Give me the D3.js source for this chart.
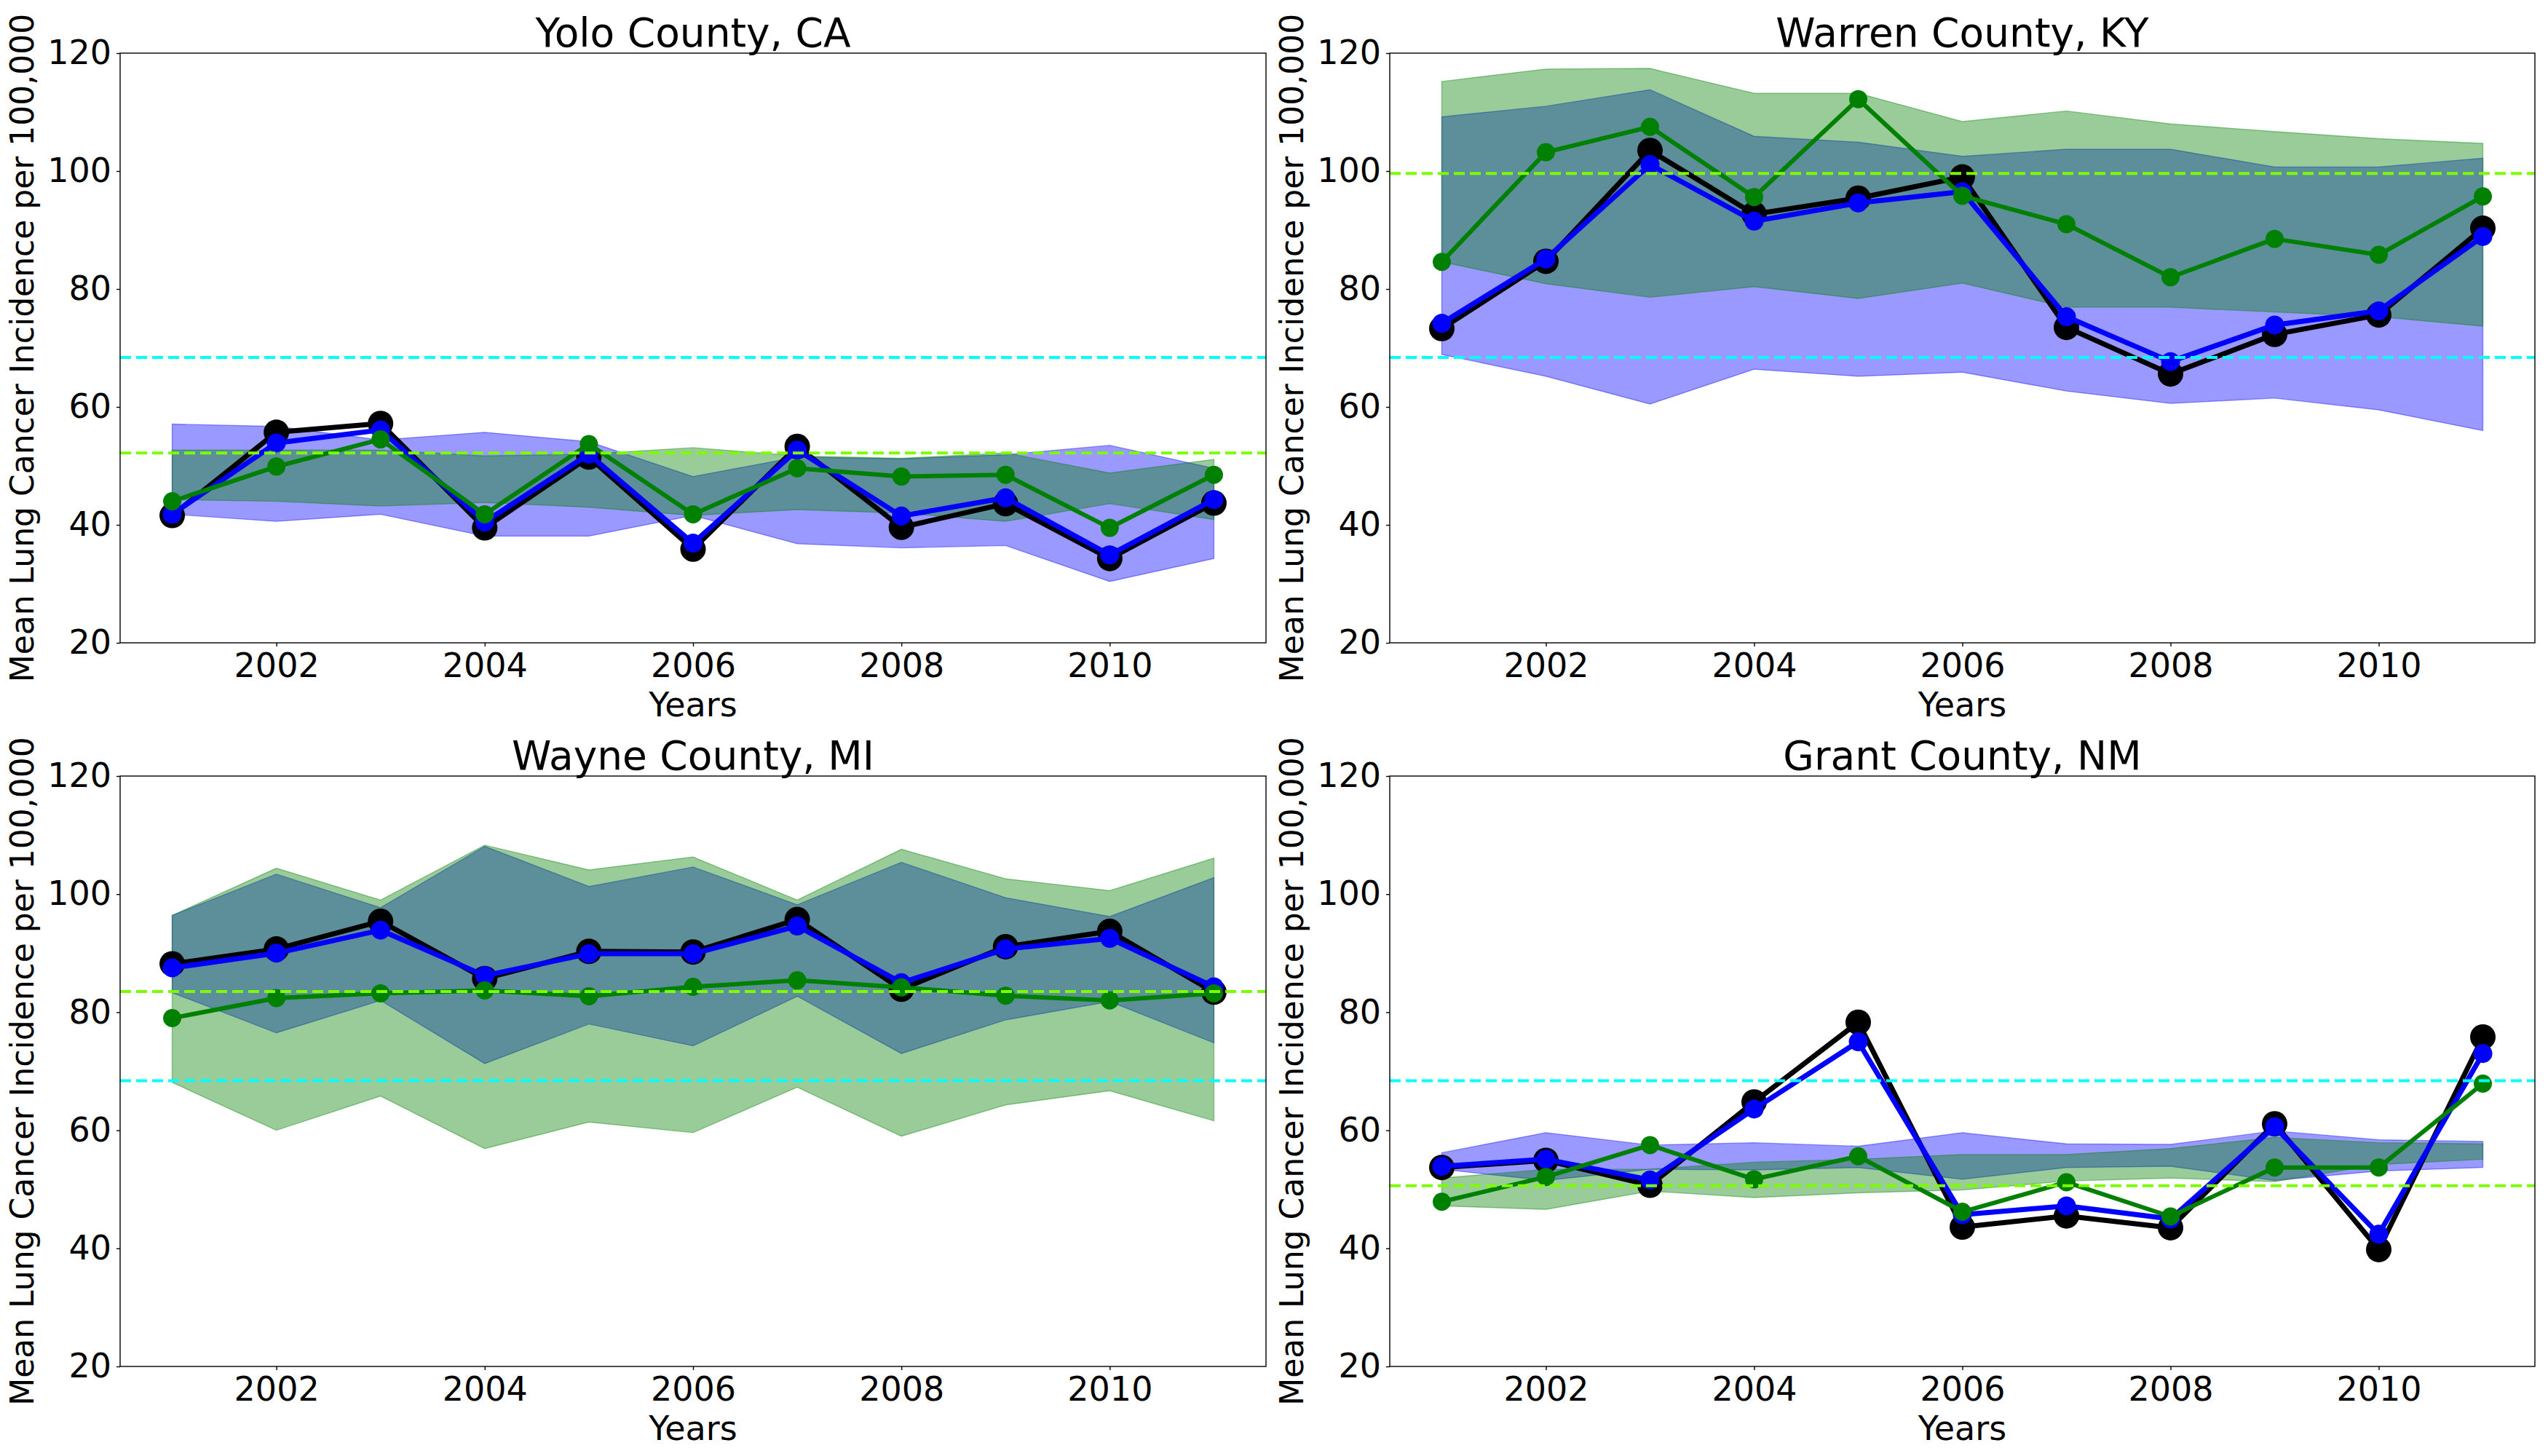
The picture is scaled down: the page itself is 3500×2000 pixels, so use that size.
<!DOCTYPE html>
<html>
<head>
<meta charset="utf-8">
<script src="https://cdn.jsdelivr.net/npm/d3@7"></script>
<style>
  html, body { margin: 0; padding: 0; background: #ffffff; }
  svg { display: block; }
  text { font-family: "DejaVu Sans", sans-serif; fill: #000; }
</style>
</head>
<body>
<svg id="chart" width="3500" height="2000"></svg>
<script>
// ---------------- DATA ----------------
const years = [2001, 2002, 2003, 2004, 2005, 2006, 2007, 2008, 2009, 2010, 2011];
const xTickValues = [2002, 2004, 2006, 2008, 2010];
const yTickValues = [20, 40, 60, 80, 100, 120];
const countyNames = ["Yolo County, CA", "Warren County, KY", "Wayne County, MI", "Grant County, NM"];
const nationalMean = 68.4;
const stateMeans = [52.2, 99.6, 83.5, 50.6];

// Black series (observed)
const yoloObserved   = [41.6, 55.7, 57.2, 39.5, 51.5, 35.9, 53.3, 39.6, 43.6, 34.3, 43.7];
const warrenObserved = [73.3, 84.7, 103.5, 92.7, 95.4, 99.0, 73.5, 65.6, 72.3, 75.6, 90.3];
const wayneObserved  = [88.2, 90.7, 95.4, 85.7, 90.3, 90.2, 95.7, 83.9, 91.1, 93.7, 83.4];
const grantObserved  = [53.7, 54.9, 50.7, 64.8, 78.3, 43.6, 45.5, 43.5, 61.1, 39.8, 75.8];

// Blue series
const yoloBlue   = [41.8, 53.9, 56.1, 40.5, 52.0, 36.9, 52.7, 41.5, 44.6, 34.9, 44.3];
const warrenBlue = [74.2, 85.1, 101.1, 91.5, 94.6, 96.5, 75.3, 67.7, 73.9, 76.3, 88.9];
const wayneBlue  = [87.5, 90.0, 93.9, 86.2, 89.9, 89.9, 94.6, 85.0, 90.7, 92.5, 84.3];
const grantBlue  = [53.9, 55.1, 51.6, 63.6, 75.0, 45.7, 47.2, 45.0, 60.6, 42.4, 73.0];

// Green series
const yoloGreen   = [44.0, 49.9, 54.5, 41.8, 53.7, 41.8, 49.6, 48.2, 48.5, 39.5, 48.5];
const warrenGreen = [84.6, 103.2, 107.5, 95.6, 112.2, 95.8, 91.0, 82.0, 88.5, 85.8, 95.7];
const wayneGreen  = [79.0, 82.4, 83.2, 83.7, 82.7, 84.3, 85.4, 84.2, 82.8, 82.0, 83.2];
const grantGreen  = [47.9, 52.1, 57.5, 51.7, 55.6, 46.2, 51.2, 45.4, 53.7, 53.7, 67.9];

// Blue band (lower, upper)
const yoloBlueLow    = [41.8, 40.6, 41.8, 38.1, 38.1, 41.6, 36.8, 36.1, 36.5, 30.4, 34.3];
const yoloBlueHigh   = [57.1, 56.7, 54.4, 55.7, 54.1, 48.2, 51.5, 51.2, 51.9, 53.5, 49.6];
const warrenBlueLow  = [68.9, 65.2, 60.5, 66.4, 65.2, 65.9, 62.7, 60.6, 61.5, 59.5, 56.0];
const warrenBlueHigh = [109.2, 111.0, 113.8, 105.9, 104.9, 102.5, 103.7, 103.7, 100.7, 100.7, 102.2];
const wayneBlueLow   = [83.3, 76.5, 82.0, 71.3, 78.0, 74.3, 82.7, 73.0, 78.7, 81.8, 74.8];
const wayneBlueHigh  = [96.4, 103.4, 97.7, 108.1, 101.3, 104.6, 98.2, 105.4, 99.4, 96.2, 102.8];
const grantBlueLow   = [53.4, 51.5, 53.4, 53.3, 53.7, 51.7, 53.7, 53.9, 51.5, 53.1, 53.7];
const grantBlueHigh  = [56.2, 59.6, 57.5, 57.9, 57.3, 59.6, 57.7, 57.6, 59.9, 58.4, 58.1];

// Green band (lower, upper)
const yoloGreenLow    = [44.3, 44.0, 43.2, 43.8, 43.0, 41.6, 42.6, 42.0, 40.6, 43.6, 40.9];
const yoloGreenHigh   = [52.7, 52.7, 52.7, 51.7, 52.0, 53.1, 51.7, 51.3, 52.2, 48.8, 51.1];
const warrenGreenLow  = [84.6, 80.9, 78.6, 80.4, 78.4, 81.0, 76.9, 76.9, 76.1, 75.3, 73.7];
const warrenGreenHigh = [115.2, 117.3, 117.4, 113.2, 113.2, 108.4, 110.2, 108.0, 106.7, 105.5, 104.7];
const wayneGreenLow   = [68.1, 60.0, 65.8, 56.9, 61.4, 59.6, 67.3, 59.0, 64.3, 66.7, 61.6];
const wayneGreenHigh  = [96.4, 104.4, 99.0, 108.3, 104.1, 106.3, 99.0, 107.6, 102.6, 100.6, 106.1];
const grantGreenLow   = [47.2, 46.6, 49.7, 48.6, 49.4, 49.9, 51.4, 51.9, 51.3, 54.2, 55.1];
const grantGreenHigh  = [51.9, 53.4, 53.4, 54.6, 55.1, 55.9, 55.9, 56.9, 58.8, 57.9, 57.7];

// ---------------- BUILD ----------------
const panelData = [
  { observed: yoloObserved, blue: yoloBlue, green: yoloGreen,
    blueLow: yoloBlueLow, blueHigh: yoloBlueHigh, greenLow: yoloGreenLow, greenHigh: yoloGreenHigh },
  { observed: warrenObserved, blue: warrenBlue, green: warrenGreen,
    blueLow: warrenBlueLow, blueHigh: warrenBlueHigh, greenLow: warrenGreenLow, greenHigh: warrenGreenHigh },
  { observed: wayneObserved, blue: wayneBlue, green: wayneGreen,
    blueLow: wayneBlueLow, blueHigh: wayneBlueHigh, greenLow: wayneGreenLow, greenHigh: wayneGreenHigh },
  { observed: grantObserved, blue: grantBlue, green: grantGreen,
    blueLow: grantBlueLow, blueHigh: grantBlueHigh, greenLow: grantGreenLow, greenHigh: grantGreenHigh }
];

const layout = [
  { x0: 165,  x1: 1739, y0: 73,   y1: 883 },
  { x0: 1909, x1: 3482, y0: 73,   y1: 883 },
  { x0: 165,  x1: 1739, y0: 1066, y1: 1877 },
  { x0: 1909, x1: 3482, y0: 1066, y1: 1877 }
];

const svg = d3.select("#chart");
svg.append("rect").attr("width", 3500).attr("height", 2000).attr("fill", "#fff");

const FONT = 46;
const LABEL_FONT = 44;
const TITLE_FONT = 55;

panelData.forEach((pd, i) => {
  const L = layout[i];
  const x = d3.scaleLinear().domain([2000.5, 2011.5]).range([L.x0, L.x1]);
  const y = d3.scaleLinear().domain([20, 120]).range([L.y1, L.y0]);
  const g = svg.append("g");

  const clipId = "clip" + i;
  svg.append("clipPath").attr("id", clipId)
    .append("rect").attr("x", L.x0).attr("y", L.y0)
    .attr("width", L.x1 - L.x0).attr("height", L.y1 - L.y0);
  const plot = g.append("g").attr("clip-path", `url(#${clipId})`);

  const area = (lo, hi) => d3.area()
    .x((d, k) => x(years[k]))
    .y0((d, k) => y(lo[k]))
    .y1((d, k) => y(hi[k]))(years);

  // Bands
  plot.append("path").attr("d", area(pd.blueLow, pd.blueHigh))
    .attr("fill", "#0000ff").attr("fill-opacity", 0.4)
    .attr("stroke", "#0000ff").attr("stroke-opacity", 0.4).attr("stroke-width", 1.4);
  plot.append("path").attr("d", area(pd.greenLow, pd.greenHigh))
    .attr("fill", "#008000").attr("fill-opacity", 0.4)
    .attr("stroke", "#008000").attr("stroke-opacity", 0.4).attr("stroke-width", 1.4);

  const line = d3.line().x((d, k) => x(years[k])).y(d => y(d));

  const series = [
    { vals: pd.observed, color: "#000000", lw: 7,   r: 17.5 },
    { vals: pd.blue,     color: "#0000ff", lw: 7,   r: 13 },
    { vals: pd.green,    color: "#008000", lw: 6,   r: 12.5 }
  ];
  series.forEach(s => {
    plot.append("path").attr("d", line(s.vals))
      .attr("fill", "none").attr("stroke", s.color)
      .attr("stroke-width", s.lw).attr("stroke-linejoin", "round");
    plot.selectAll(null).data(s.vals).enter().append("circle")
      .attr("cx", (d, k) => x(years[k])).attr("cy", d => y(d))
      .attr("r", s.r).attr("fill", s.color);
  });

  // Reference lines
  plot.append("line").attr("x1", L.x0).attr("x2", L.x1)
    .attr("y1", y(nationalMean)).attr("y2", y(nationalMean))
    .attr("stroke", "#00ffff").attr("stroke-width", 4).attr("stroke-dasharray", "15,7");
  plot.append("line").attr("x1", L.x0).attr("x2", L.x1)
    .attr("y1", y(stateMeans[i])).attr("y2", y(stateMeans[i]))
    .attr("stroke", "#7cfc00").attr("stroke-width", 4).attr("stroke-dasharray", "15,7");

  // Frame
  g.append("rect").attr("x", L.x0).attr("y", L.y0)
    .attr("width", L.x1 - L.x0).attr("height", L.y1 - L.y0)
    .attr("fill", "none").attr("stroke", "#000").attr("stroke-width", 1.4);

  // Axes
  const xAxis = d3.axisBottom(x).tickValues(xTickValues).tickFormat(d3.format("d"))
    .tickSize(5).tickPadding(9);
  const gx = g.append("g").attr("transform", `translate(0,${L.y1})`).call(xAxis);
  gx.select(".domain").remove();
  gx.selectAll("line").attr("stroke", "#000").attr("stroke-width", 1.4);
  gx.selectAll("text").attr("font-size", FONT).attr("font-family", "DejaVu Sans").attr("fill", "#000");

  const yAxis = d3.axisLeft(y).tickValues(yTickValues).tickFormat(d3.format("d"))
    .tickSize(5).tickPadding(7);
  const gy = g.append("g").attr("transform", `translate(${L.x0},0)`).call(yAxis);
  gy.select(".domain").remove();
  gy.selectAll("line").attr("stroke", "#000").attr("stroke-width", 1.4);
  gy.selectAll("text").attr("font-size", FONT).attr("font-family", "DejaVu Sans").attr("fill", "#000");

  // Title
  g.append("text").attr("x", (L.x0 + L.x1) / 2).attr("y", L.y0 - 9)
    .attr("text-anchor", "middle").attr("font-size", TITLE_FONT).text(countyNames[i]);

  // X label
  g.append("text").attr("x", (L.x0 + L.x1) / 2).attr("y", L.y1 + 101)
    .attr("text-anchor", "middle").attr("font-size", FONT).text("Years");

  // Y label
  const cy = (L.y0 + L.y1) / 2;
  const lx = L.x0 - 134;
  g.append("text").attr("transform", `translate(${lx},${cy}) rotate(-90)`)
    .attr("text-anchor", "middle").attr("dy", "0.35em").attr("font-size", LABEL_FONT)
    .text("Mean Lung Cancer Incidence per 100,000");
});
</script>
</body>
</html>
